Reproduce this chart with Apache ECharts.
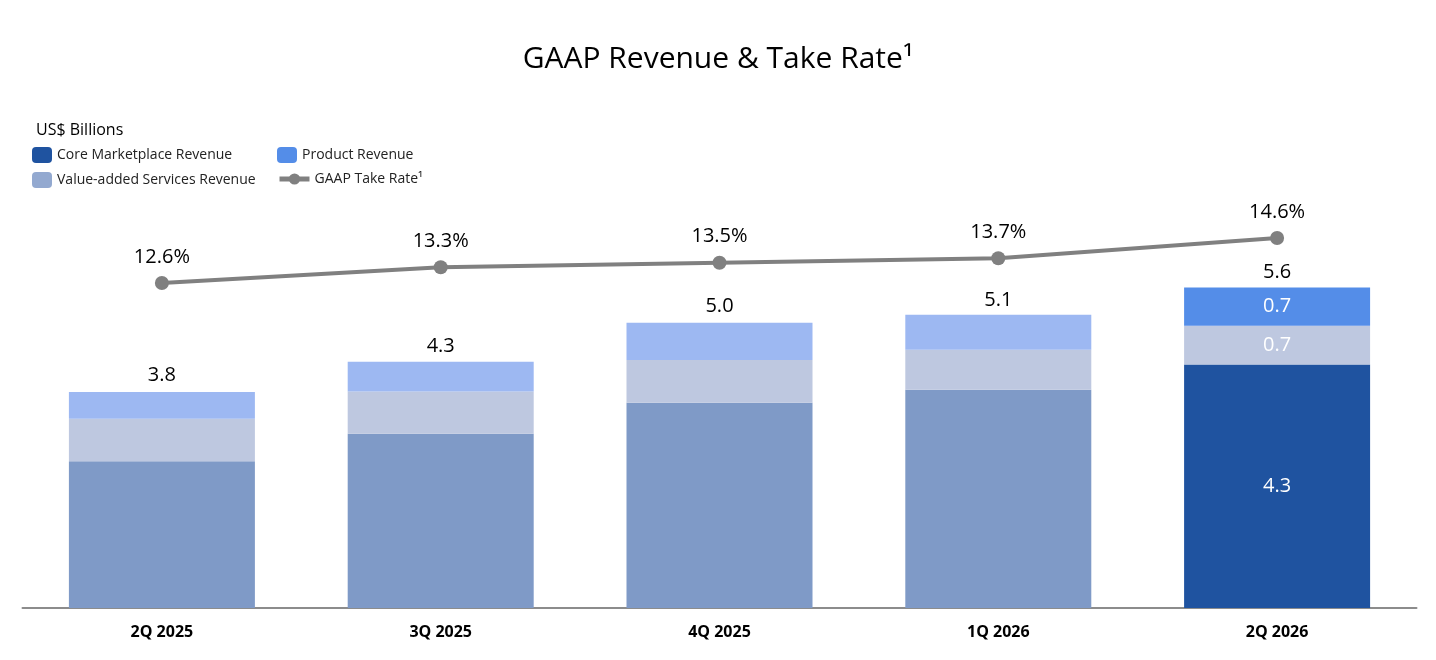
<!DOCTYPE html>
<html>
<head>
<meta charset="utf-8">
<script src="https://cdn.jsdelivr.net/npm/echarts@6/dist/echarts.min.js"></script>
<style>
  html, body { margin: 0; padding: 0; background: #fff; }
  #main { width: 1436px; height: 660px; }
</style>
</head>
<body>
<div id="main"></div>
<script>
var quarters = ['2Q 2025', '3Q 2025', '4Q 2025', '1Q 2026', '2Q 2026'];
var coreRevenue = [2.57, 3.05, 3.59, 3.82, 4.26];
var vasRevenue = [0.74, 0.74, 0.75, 0.70, 0.68];
var productRevenue = [0.47, 0.52, 0.65, 0.61, 0.67];
var totalRevenue = [3.8, 4.3, 5.0, 5.1, 5.6];
var takeRate = [12.6, 13.3, 13.5, 13.7, 14.6];

var FONT = 'Open Sans';
var last = quarters.length - 1;

// earlier quarters are shown faded, the latest one in full colour
function shade(values, faded, full, showLabel) {
    return values.map(function (v, i) {
        var item = { value: v, itemStyle: { color: i === last ? full : faded } };
        if (showLabel && i === last) {
            item.label = {
                show: true, position: 'inside', color: '#fff',
                fontSize: 20, fontFamily: FONT,
                formatter: function (p) { return p.value.toFixed(1); }
            };
        }
        return item;
    });
}

var legendText = { fontSize: 14, color: '#222', fontFamily: FONT };

var chart = echarts.init(document.getElementById('main'));
var option = {
    animation: false,
    textStyle: { fontFamily: FONT },
    title: [{
        text: 'GAAP Revenue & Take Rate\u00b9',
        left: 'center',
        top: 39,
        textStyle: { fontSize: 30, fontWeight: 'normal', color: '#000', fontFamily: FONT }
    }, {
        text: 'US$ Billions',
        left: 31,
        top: 117,
        textStyle: { fontSize: 16, fontWeight: 'normal', color: '#000', fontFamily: FONT }
    }],
    legend: [{
        data: ['Core Marketplace Revenue'], left: 32, top: 147,
        itemWidth: 20, itemHeight: 16, padding: 0, textStyle: legendText
    }, {
        data: ['Product Revenue'], left: 277, top: 147,
        itemWidth: 20, itemHeight: 16, padding: 0, textStyle: legendText
    }, {
        data: ['Value-added Services Revenue'], left: 32, top: 172,
        itemWidth: 20, itemHeight: 16, padding: 0, textStyle: legendText
    }, {
        data: ['GAAP Take Rate\u00b9'], left: 277, top: 172,
        itemWidth: 30, itemHeight: 14, padding: 0, textStyle: legendText,
        lineStyle: { width: 5 }
    }],
    grid: { left: 22.5, right: 19.5, top: 208, bottom: 52 },
    xAxis: {
        type: 'category',
        data: quarters,
        axisTick: { show: false },
        axisLine: { lineStyle: { color: '#8c8c8c', width: 2 } },
        axisLabel: { fontSize: 16, fontWeight: 'bold', color: '#000', margin: 16, fontFamily: FONT }
    },
    yAxis: [{
        type: 'value', min: 0, max: 7, show: false, splitLine: { show: false }
    }, {
        type: 'value', min: -1.8444, max: 15.9333, show: false, splitLine: { show: false }
    }],
    series: [{
        name: 'Core Marketplace Revenue',
        type: 'bar', stack: 'rev', barWidth: 186,
        color: '#1f53a0',
        data: shade(coreRevenue, '#7f9ac7', '#1f53a0', true)
    }, {
        name: 'Value-added Services Revenue',
        type: 'bar', stack: 'rev',
        color: '#93a9d0',
        data: shade(vasRevenue, '#bec8e0', '#bec8e0', true)
    }, {
        name: 'Product Revenue',
        type: 'bar', stack: 'rev',
        color: '#548de8',
        data: shade(productRevenue, '#9db8f2', '#548de8', true)
    }, {
        name: 'Total',
        type: 'bar', barWidth: 186, barGap: '-100%',
        itemStyle: { color: 'rgba(0,0,0,0)' },
        silent: true, z: 1,
        label: {
            show: true, position: 'top', distance: 6,
            fontSize: 20, color: '#000', fontFamily: FONT,
            formatter: function (p) { return p.value.toFixed(1); }
        },
        data: totalRevenue
    }, {
        name: 'GAAP Take Rate\u00b9',
        type: 'line', yAxisIndex: 1,
        symbol: 'circle', symbolSize: 14,
        color: '#808080',
        lineStyle: { width: 4, color: '#808080' },
        label: {
            show: true, position: 'top', distance: 9,
            fontSize: 20, color: '#000', fontFamily: FONT,
            formatter: function (p) { return p.value.toFixed(1) + '%'; }
        },
        data: takeRate,
        z: 5
    }]
};
chart.setOption(option);
</script>
</body>
</html>
